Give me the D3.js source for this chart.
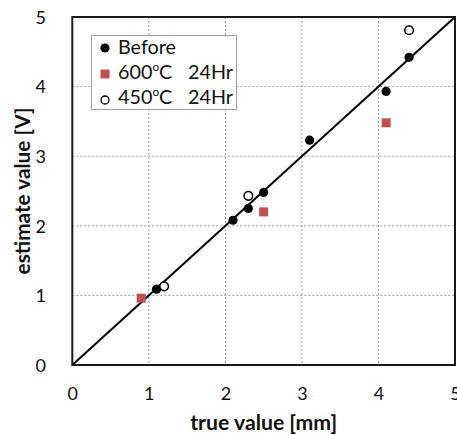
<!DOCTYPE html>
<html><head><meta charset="utf-8">
<script src="https://cdn.jsdelivr.net/npm/d3@7"></script>
<style>body{margin:0;background:#fff}svg{display:block}text{font-family:Lato,"Open Sans",sans-serif;fill:#111}</style>
</head><body>
<script>
// Data
const beforeX = [1.1, 2.1, 2.3, 2.5, 3.1, 4.1, 4.4];
const beforeY = [1.09, 2.08, 2.25, 2.48, 3.23, 3.93, 4.42];
const t600X = [0.9, 2.5, 4.1];
const t600Y = [0.96, 2.2, 3.48];
const t450X = [1.2, 2.3, 4.4];
const t450Y = [1.13, 2.43, 4.81];
const ticks = [0, 1, 2, 3, 4, 5];
const legendLabels = ["Before", "600", "450"];

const W = 457, H = 435;
const L = 72.3, R = 455, T = 17, B = 365;
const svg = d3.select("body").append("svg").attr("width", W).attr("height", H);
const x = d3.scaleLinear().domain([0, 5]).range([L, R]);
const y = d3.scaleLinear().domain([0, 5]).range([B, T]);

// grid
const grid = svg.append("g").attr("stroke", "#9a9a9a").attr("stroke-width", 1).attr("stroke-dasharray", "2,2");
ticks.slice(1, -1).forEach(t => {
  grid.append("line").attr("x1", x(t)).attr("x2", x(t)).attr("y1", T).attr("y2", B);
  grid.append("line").attr("x1", L).attr("x2", R).attr("y1", y(t)).attr("y2", y(t));
});

// axes labels
const xAxis = d3.axisBottom(x).tickValues(ticks).tickSize(0).tickPadding(0).tickFormat(d3.format("d"));
const gx = svg.append("g").attr("transform", `translate(0,${B})`).call(xAxis);
gx.select(".domain").remove();
gx.selectAll("text").attr("font-size", 18).attr("dy", 0).attr("y", 35).style("font-family", "Lato").attr("fill", "#111");
const yAxis = d3.axisLeft(y).tickValues(ticks).tickSize(0).tickPadding(0).tickFormat(d3.format("d"));
const gy = svg.append("g").attr("transform", `translate(0,0)`).call(yAxis);
gy.select(".domain").remove();
gy.selectAll("text").attr("font-size", 18).attr("x", 46).attr("dy", "0.35em").style("font-family", "Lato").attr("fill", "#111");

// diagonal
svg.append("line").attr("x1", x(0)).attr("y1", y(0)).attr("x2", x(5)).attr("y2", y(5))
  .attr("stroke", "#000").attr("stroke-width", 2);

// points
svg.append("g").selectAll("circle").data(beforeX).join("circle")
  .attr("cx", (d, i) => x(d)).attr("cy", (d, i) => y(beforeY[i])).attr("r", 4.6).attr("fill", "#000");
svg.append("g").selectAll("rect").data(t600X).join("rect")
  .attr("x", (d, i) => x(d) - 4.5).attr("y", (d, i) => y(t600Y[i]) - 4.5).attr("width", 9).attr("height", 9).attr("fill", "#c0504d");
svg.append("g").selectAll("circle").data(t450X).join("circle")
  .attr("cx", (d, i) => x(d)).attr("cy", (d, i) => y(t450Y[i])).attr("r", 4.3).attr("fill", "#fff").attr("stroke", "#000").attr("stroke-width", 1.5);

// frame
svg.append("rect").attr("x", L).attr("y", T).attr("width", R - L).attr("height", B - T)
  .attr("fill", "none").attr("stroke", "#1a1a1a").attr("stroke-width", 2);

function fit(sel, target) {
  const fs = +sel.attr("font-size");
  const len = sel.node().getComputedTextLength();
  sel.attr("font-size", fs * target / len);
}

// axis titles
const xt = svg.append("text").attr("x", (L + R) / 2).attr("y", 430).attr("text-anchor", "middle")
  .attr("font-weight", "bold").attr("font-size", 18).text("true value [mm]");
fit(xt, 147);
const yt = svg.append("text").attr("transform", `translate(30,${(T + B) / 2}) rotate(-90)`).attr("text-anchor", "middle")
  .attr("font-weight", "bold").attr("font-size", 18).text("estimate value [V]");
fit(yt, 167);

// legend
const lg = svg.append("g");
lg.append("rect").attr("x", 91.5).attr("y", 35.5).attr("width", 145).attr("height", 74)
  .attr("fill", "#fff").attr("stroke", "#a0a0a0").attr("stroke-width", 1);
lg.append("circle").attr("cx", 105).attr("cy", 48).attr("r", 4.6).attr("fill", "#000");
lg.append("rect").attr("x", 100.5).attr("y", 69.5).attr("width", 9).attr("height", 9).attr("fill", "#c0504d");
lg.append("circle").attr("cx", 105).attr("cy", 100).attr("r", 4).attr("fill", "#fff").attr("stroke", "#000").attr("stroke-width", 1.3);
const t1 = lg.append("text").attr("x", 118).attr("y", 54).attr("font-size", 20).text(legendLabels[0]);
fit(t1, 58);
const fsz = +t1.attr("font-size");
[[legendLabels[1], 79], [legendLabels[2], 104]].forEach(([lab, yy]) => {
  const t = lg.append("text").attr("x", 118).attr("y", yy).attr("font-size", fsz);
  t.append("tspan").text(lab);
  t.append("tspan").attr("font-size", fsz * 0.6).attr("dy", -fsz * 0.42).text("o");
  t.append("tspan").attr("dy", fsz * 0.42).text("C");
  lg.append("text").attr("x", 188).attr("y", yy).attr("font-size", fsz).text("24Hr");
});
</script>
</body></html>
